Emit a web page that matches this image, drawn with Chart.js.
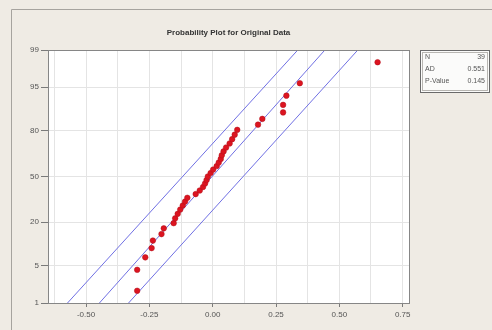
<!DOCTYPE html>
<html>
<head>
<meta charset="utf-8">
<script src="https://cdn.jsdelivr.net/npm/chart.js@4"></script>
<style>
  html, body { margin: 0; padding: 0; background: #efebe4; }
  canvas { display: block; }
</style>
</head>
<body>
<canvas id="myChart" width="492" height="330"></canvas>
<script>
// data
const xValues = [-0.298, -0.298, -0.266, -0.241, -0.236, -0.202, -0.193, -0.154, -0.148, -0.138,
  -0.128, -0.118, -0.109, -0.100, -0.067, -0.051, -0.038, -0.030, -0.024, -0.019,
  -0.008, 0.002, 0.016, 0.024, 0.032, 0.036, 0.043, 0.053, 0.067, 0.077,
  0.087, 0.097, 0.179, 0.196, 0.278, 0.278, 0.291, 0.344, 0.651];
const pctValues = [1.78, 4.31, 6.85, 9.39, 11.93, 14.47, 17.01, 19.54, 22.08, 24.62,
  27.16, 29.70, 32.23, 34.77, 37.31, 39.85, 42.39, 44.92, 47.46, 50.00,
  52.54, 55.08, 57.61, 60.15, 62.69, 65.23, 67.77, 70.30, 72.84, 75.38,
  77.92, 80.46, 82.99, 85.53, 88.07, 90.61, 93.15, 95.69, 98.22];

// fitted line and confidence bands (ends at 1% and 99%)
const linePct = [1, 99];
const fitX = [-0.447, 0.443];
const upperBandX = [-0.573, 0.336];
const lowerBandX = [-0.332, 0.573];

const yTickPct = [1, 5, 20, 50, 80, 95, 99];
const xTickLabels = [-0.5, -0.25, 0, 0.25, 0.5, 0.75];
const xGridValues = [-0.625, -0.5, -0.375, -0.25, -0.125, 0, 0.125, 0.25, 0.375, 0.5, 0.625, 0.75];

const titleText = 'Probability Plot for Original Data';
const statNames = ['N', 'AD', 'P-Value'];
const statValues = ['39', '0.551', '0.145'];

// inverse normal cdf (Acklam), percent -> z
function zOf(pct) {
  const p = pct / 100;
  const a = [-39.6968302866538, 220.946098424521, -275.928510446969, 138.357751867269, -30.6647980661472, 2.50662827745924];
  const b = [-54.4760987982241, 161.585836858041, -155.698979859887, 66.8013118877197, -13.2806815528857];
  const c = [-0.00778489400243029, -0.322396458041136, -2.40075827716184, -2.54973253934373, 4.37466414146497, 2.93816398269878];
  const d = [0.00778469570904146, 0.32246712907004, 2.445134137143, 3.75440866190742];
  const pl = 0.02425;
  let q, r;
  if (p < pl) {
    q = Math.sqrt(-2 * Math.log(p));
    return (((((c[0]*q+c[1])*q+c[2])*q+c[3])*q+c[4])*q+c[5]) / ((((d[0]*q+d[1])*q+d[2])*q+d[3])*q+1);
  } else if (p <= 1 - pl) {
    q = p - 0.5; r = q * q;
    return (((((a[0]*r+a[1])*r+a[2])*r+a[3])*r+a[4])*r+a[5])*q / (((((b[0]*r+b[1])*r+b[2])*r+b[3])*r+b[4])*r+1);
  }
  q = Math.sqrt(-2 * Math.log(1 - p));
  return -(((((c[0]*q+c[1])*q+c[2])*q+c[3])*q+c[4])*q+c[5]) / ((((d[0]*q+d[1])*q+d[2])*q+d[3])*q+1);
}

function toPoints(xs, ps) {
  return xs.map((x, i) => ({ x: x, y: zOf(ps[i]) }));
}

function isMajor(v) {
  return xTickLabels.some(t => Math.abs(t - v) < 1e-6);
}

const lineColor = '#7070e4';
const lineSet = (label, xs) => ({
  label: label,
  data: toPoints(xs, linePct),
  showLine: true,
  borderColor: lineColor,
  borderWidth: 1,
  pointRadius: 0,
});

const data = {
  datasets: [
    {
      label: 'Data',
      data: toPoints(xValues, pctValues),
      backgroundColor: '#dc1420',
      borderColor: '#b0101a',
      borderWidth: 0.5,
      pointRadius: 2.8,
    },
    lineSet('Fit', fitX),
    lineSet('Upper', upperBandX),
    lineSet('Lower', lowerBandX),
  ]
};

const framePlugin = {
  id: 'frame',
  beforeDraw(chart) {
    const ctx = chart.ctx;
    const a = chart.chartArea;
    ctx.save();
    ctx.fillStyle = '#efebe4';
    ctx.fillRect(0, 0, chart.width, chart.height);
    ctx.strokeStyle = '#a6a39e';
    ctx.lineWidth = 1;
    ctx.beginPath();
    ctx.moveTo(11.5, chart.height);
    ctx.lineTo(11.5, 9.5);
    ctx.lineTo(chart.width, 9.5);
    ctx.stroke();
    ctx.fillStyle = '#ffffff';
    ctx.fillRect(a.left, a.top, a.right - a.left, a.bottom - a.top);
    ctx.restore();
  },
  afterDraw(chart) {
    const ctx = chart.ctx;
    const a = chart.chartArea;
    ctx.save();
    // plot border
    ctx.strokeStyle = '#868686';
    ctx.lineWidth = 1;
    ctx.strokeRect(Math.round(a.left) + 0.5, Math.round(a.top) + 0.5,
      Math.round(a.right - a.left), Math.round(a.bottom - a.top));
    // title
    ctx.fillStyle = '#333333';
    ctx.font = 'bold 8px "Liberation Sans", Arial, sans-serif';
    ctx.textAlign = 'center';
    ctx.textBaseline = 'middle';
    ctx.fillText(titleText, (a.left + a.right) / 2, 33);
    // stats box
    ctx.fillStyle = '#fbfbfa';
    ctx.fillRect(420.5, 50.5, 69, 42);
    ctx.strokeStyle = '#6a6a6a';
    ctx.strokeRect(420.5, 50.5, 69, 42);
    ctx.strokeStyle = '#b8b6b2';
    ctx.strokeRect(422.5, 52.5, 65, 38);
    ctx.fillStyle = '#555555';
    ctx.font = '7px "Liberation Sans", Arial, sans-serif';
    statNames.forEach((name, i) => {
      const y = 57 + i * 12;
      ctx.textAlign = 'left';
      ctx.fillText(name, 425, y);
      ctx.textAlign = 'right';
      ctx.fillText(statValues[i], 485, y);
    });
    ctx.restore();
  }
};

const tickFont = { family: '"Liberation Sans", Arial, sans-serif', size: 8 };

const config = {
  type: 'scatter',
  data: data,
  options: {
    responsive: false,
    animation: false,
    layout: { padding: { left: 0, top: 50, right: 83, bottom: 0 } },
    plugins: {
      legend: { display: false },
      title: { display: false },
      tooltip: { enabled: false },
    },
    scales: {
      x: {
        type: 'linear',
        min: -0.65,
        max: 0.775,
        afterBuildTicks(scale) {
          scale.ticks = xGridValues.map(v => ({ value: v }));
        },
        afterFit(scale) { scale.height = 27; },
        border: { display: false },
        grid: {
          color: '#e4e4e4',
          tickLength: 4,
          tickColor: ctx => (ctx.tick && isMajor(ctx.tick.value)) ? '#7a7a7a' : 'rgba(0,0,0,0)',
        },
        ticks: {
          autoSkip: false,
          maxRotation: 0,
          padding: 3,
          color: '#555555',
          font: tickFont,
          callback: v => isMajor(v) ? v.toFixed(2) : '',
        }
      },
      y: {
        type: 'linear',
        min: zOf(1),
        max: zOf(99),
        afterBuildTicks(scale) {
          scale.ticks = yTickPct.map(p => ({ value: zOf(p) }));
        },
        afterFit(scale) { scale.width = 48; },
        border: { display: false },
        grid: {
          color: '#e4e4e4',
          tickLength: 7,
          tickColor: '#7a7a7a',
        },
        ticks: {
          autoSkip: false,
          padding: 2,
          color: '#555555',
          font: tickFont,
          callback: (v, i) => String(yTickPct[i]),
        }
      }
    }
  },
  plugins: [framePlugin]
};

const myChart = new Chart(document.getElementById('myChart'), config);
</script>
</body>
</html>
